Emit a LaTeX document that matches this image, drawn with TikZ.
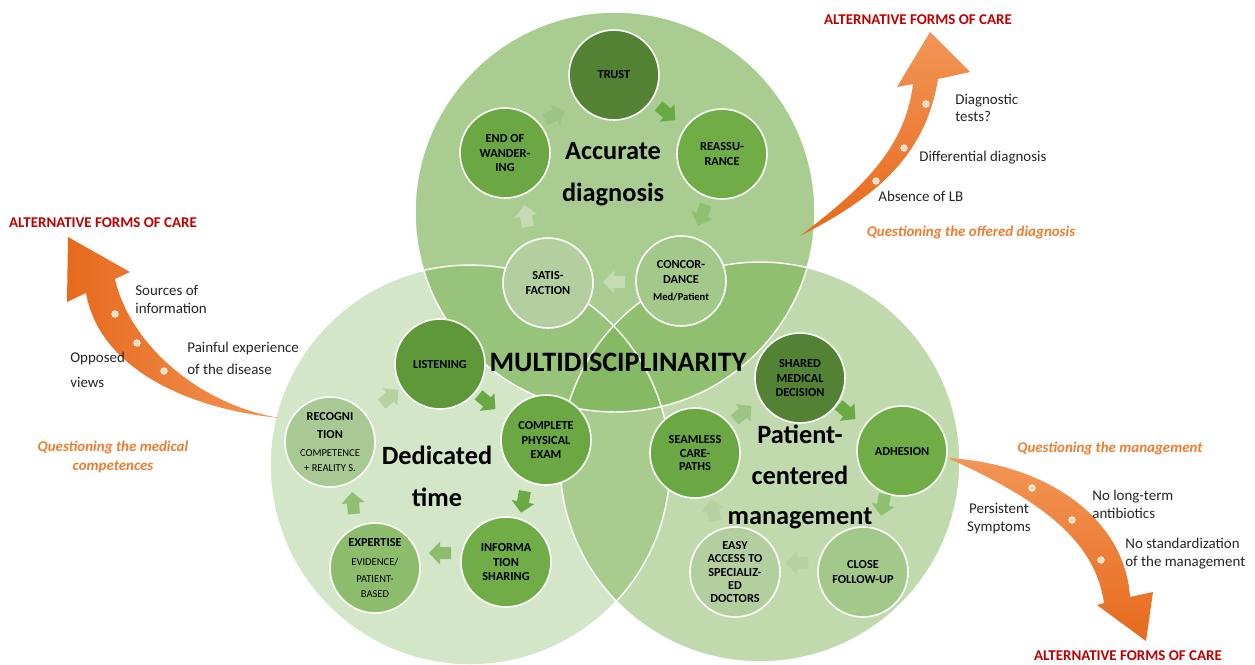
\documentclass[tikz,border=0pt]{standalone}
\usepackage{fontspec}
\setmainfont{Carlito}
\definecolor{gb}{HTML}{70AD47}
\definecolor{orw}{HTML}{EE7D31}
\definecolor{orl}{HTML}{F39556}
\definecolor{ord}{HTML}{E66A1C}
\definecolor{altred}{HTML}{C00000}
\definecolor{qor}{HTML}{ED7D31}
\definecolor{lbl}{HTML}{262626}
\definecolor{dotc}{HTML}{F8D9C2}
% node fills
\definecolor{ndark}{HTML}{548235}
\definecolor{nlist}{HTML}{5E9838}
\definecolor{nmid}{HTML}{6BA843}
\definecolor{nbase}{HTML}{70AD47}
\definecolor{nexp}{HTML}{8DBD6C}
\definecolor{nconc}{HTML}{A2C88A}
\definecolor{nlight}{HTML}{B3CFA0}
\definecolor{nrec}{HTML}{A9C994}
% block arrow fills
\definecolor{amid}{HTML}{6AAA45}
\definecolor{amed}{HTML}{8FBF70}
\definecolor{asoft}{HTML}{9CC585}
\definecolor{alite}{HTML}{C4DBB3}
\definecolor{alit2}{HTML}{B6D2A2}
\newcommand{\smtxt}[1]{{\mdseries\fontsize{6}{7.5}\selectfont #1}}
\newcommand{\smbtxt}[1]{{\fontsize{6}{7.5}\selectfont #1}}
\begin{document}
\begin{tikzpicture}[x=0.02cm,y=-0.02cm,
  big/.style={circle, minimum size=8cm, inner sep=0pt},
  sn/.style={circle, draw=white, line width=0.9pt, minimum size=1.8cm, inner sep=0pt, align=center, font=\bfseries\fontsize{7}{8.5}\selectfont, text=black},
  blk/.pic={\fill[pic actions] (-11,-6) -- (0,-6) -- (0,-11.5) -- (11,0) -- (0,11.5) -- (0,6) -- (-11,6) -- cycle;},
  title/.style={font=\bfseries\fontsize{15}{24}\selectfont, align=center, text=black},
  lab/.style={font=\fontsize{8.5}{10}\selectfont, text=lbl, align=left, anchor=west, inner sep=0pt},
  quest/.style={font=\bfseries\itshape\fontsize{8.5}{10.5}\selectfont, text=qor, align=center, inner sep=0pt},
  alt/.style={font=\bfseries\fontsize{8.5}{10}\selectfont, text=altred, inner sep=0pt},
  odot/.style={circle, fill=dotc, draw=white, line width=0.4pt, minimum size=0.13cm, inner sep=0pt},
  orarrow/.style={fill=orw},
]
\useasboundingbox (0,0) rectangle (1255,664);
\fill[white] (0,0) rectangle (1255,664);

% big circles
\node[big, fill=gb, fill opacity=0.30] (cleft) at (470,465) {};
\node[big, fill=gb, fill opacity=0.44] (cright) at (760,462) {};
\node[big, fill=gb, fill opacity=0.60] (ctop) at (615,212) {};
\foreach \c in {cleft,cright,ctop} \draw[white, line width=0.8pt] (\c.center) circle[radius=4cm];

% orange arrows
\shade[top color=orl, bottom color=ord] (800,236) .. controls (870,200) and (925,160) .. (938,79) -- (970,72) -- (930,32) -- (897,87) -- (913,84) .. controls (905,150) and (860,190) .. (800,236) -- cycle;
\shade[left color=ord, right color=orl] (280,418) .. controls (195,410) and (100,372) .. (86,293) -- (67,302) -- (68,237) -- (130,272) -- (115,279) .. controls (130,345) and (200,405) .. (280,418) -- cycle;
\shade[top color=orl, bottom color=ord] (950,458) .. controls (1050,465) and (1125,520) .. (1130,597) -- (1153,592) -- (1146,641) -- (1097,605) -- (1104,603) .. controls (1095,540) and (1040,500) .. (950,459) -- cycle;

\node[odot] (d1) at (876,181) {};
\node[odot] (d2) at (904,148) {};
\node[odot] (d3) at (926,104) {};
\node[odot] (d4) at (115,314) {};
\node[odot] (d5) at (137,343) {};
\node[odot] (d6) at (164,371) {};
\node[odot] (d7) at (1032,488) {};
\node[odot] (d8) at (1072,520) {};
\node[odot] (d9) at (1101,560) {};

% labels
\node[alt] (alt1) at (918,20) {ALTERNATIVE FORMS OF CARE};
\node[alt] (alt2) at (103,223) {ALTERNATIVE FORMS OF CARE};
\node[alt] (alt3) at (1128,656) {ALTERNATIVE FORMS OF CARE};
\node[lab, font=\fontsize{8.5}{9.6}\selectfont] (l1) at (955,108) {Diagnostic\\tests?};
\node[lab] (l2) at (919,158) {Differential diagnosis};
\node[lab] (l3) at (878,196) {Absence of LB};
\node[quest] (q1) at (971,233) {Questioning the offered diagnosis};
\node[lab, font=\fontsize{8.5}{10.2}\selectfont] (l4) at (135,299) {Sources of\\information};
\node[lab, font=\fontsize{8.5}{14}\selectfont] (l5) at (70,370) {Opposed\\views};
\node[lab, font=\fontsize{8.5}{12.5}\selectfont] (l6) at (187,358) {Painful experience\\of the disease};
\node[quest, font=\bfseries\itshape\fontsize{8.5}{10.8}\selectfont] (q2) at (113,457) {Questioning the medical\\competences};
\node[quest] (q3) at (1110,449) {Questioning the management};
\node[lab, align=center, anchor=center, font=\fontsize{8.5}{10.2}\selectfont] (l7) at (999,519) {Persistent\\Symptoms};
\node[lab, font=\fontsize{8.5}{10.2}\selectfont] (l8) at (1092,504) {No long-term\\antibiotics};
\node[lab, font=\fontsize{8.5}{10.2}\selectfont] (l9) at (1125,554) {No standardization\\of the management};

% top cycle
\node[sn, fill=ndark] (trust) at (614,75) {TRUST};
\node[sn, fill=nbase] (reass) at (722,154) {REASSU-\\RANCE};
\node[sn, fill=nconc] (conc) at (681,281) {CONCOR-\\DANCE\\[1pt]\smbtxt{Med/Patient}};
\node[sn, fill=nlight] (satis) at (548,283) {SATIS-\\FACTION};
\node[sn, fill=nmid] (endw) at (505,153) {END OF\\WANDER-\\ING};
\pic[fill=amid, rotate=-40] (a1) at (667,113) {blk};
\pic[fill=amed, rotate=-110] (a2) at (702,215) {blk};
\pic[fill=alite, rotate=180] (a3) at (614,282) {blk};
\pic[fill=alite, rotate=100] (a4) at (526,216) {blk};
\pic[fill=asoft, rotate=25] (a5) at (555,115) {blk};
\node[title] (tacc) at (613,174) {Accurate\\diagnosis};

% left cycle
\node[sn, fill=nlist] (listen) at (440,364) {LISTENING};
\node[sn, fill=nmid] (compl) at (546,440) {COMPLETE\\PHYSICAL\\EXAM};
\node[sn, fill=nbase] (info) at (506,562) {INFORMA\\TION\\SHARING};
\node[sn, fill=nexp] (expert) at (375,568) {EXPERTISE\\[2pt]\smtxt{EVIDENCE/}\\[1pt]\smtxt{PATIENT-}\\\smtxt{BASED}};
\node[sn, fill=nrec] (recog) at (330,442) {RECOGNI\\[2pt]TION\\[2pt]\smtxt{COMPETENCE}\\\smtxt{+ REALITY S.}};
\pic[fill=alit2, rotate=40] (b1) at (390,397) {blk};
\pic[fill=amid, rotate=-40] (b2) at (487,402) {blk};
\pic[fill=amid, rotate=-100] (b3) at (523,502) {blk};
\pic[fill=nexp, rotate=180] (b4) at (440,553) {blk};
\pic[fill=amed, rotate=95] (b5) at (353,503) {blk};
\node[title] (tded) at (437,476) {Dedicated\\time};

% right cycle
\node[sn, fill=ndark] (shared) at (800,378) {SHARED\\MEDICAL\\DECISION};
\node[sn, fill=nbase] (adh) at (902,451) {ADHESION};
\node[sn, fill=nconc] (close) at (863,572) {CLOSE\\FOLLOW-UP};
\node[sn, fill=nlight, font=\bfseries\fontsize{7}{7.6}\selectfont] (easy) at (735,572) {EASY\\ACCESS TO\\SPECIALIZ-\\ED\\DOCTORS};
\node[sn, fill=nmid, font=\bfseries\fontsize{7}{7.8}\selectfont] (seam) at (695,453) {SEAMLESS\\CARE-\\PATHS};
\pic[fill=asoft, rotate=40] (c1) at (743,413) {blk};
\pic[fill=amid, rotate=-40] (c2) at (847,412) {blk};
\pic[fill=amed, rotate=-100] (c3) at (883,505) {blk};
\pic[fill=alit2, rotate=180] (c4) at (797,563) {blk};
\pic[fill=alit2, rotate=100] (c5) at (713,510) {blk};
\node[title, font=\bfseries\fontsize{15}{23}\selectfont] (tpat) at (800,477) {Patient-\\centered\\management};

\node[font=\bfseries\fontsize{16}{18}\selectfont, text=black] (multi) at (618,362) {MULTIDISCIPLINARITY};
\end{tikzpicture}
\end{document}
